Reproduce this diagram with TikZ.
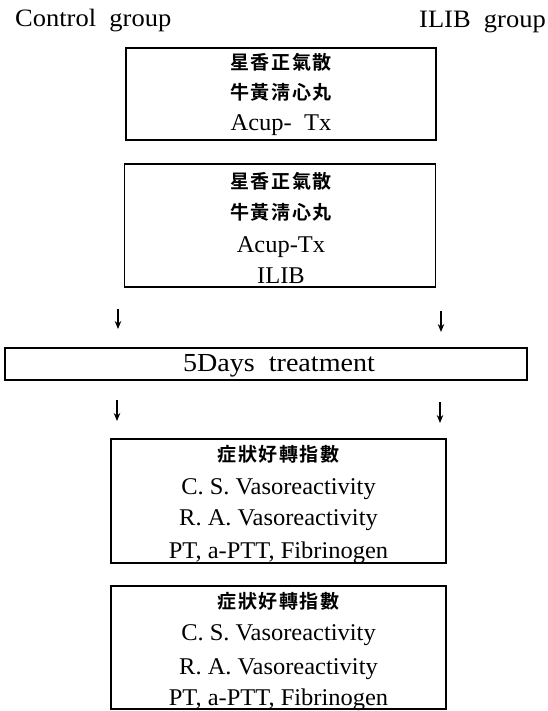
\documentclass[tikz,border=0pt]{standalone}
\usepackage{fontspec}
\setmainfont{Liberation Serif}[FakeStretch=1.02]
\newfontfamily\hdrfont{Liberation Serif}[FakeStretch=1.06]
\newfontfamily\trtfont{Liberation Serif}[FakeStretch=1.08]
\newfontfamily\cjk{Noto Sans CJK KR}[LetterSpace=8,UprightFont=* Bold]
\usetikzlibrary{arrows.meta}
\tikzset{
  box/.style={draw, line width=1.6pt, inner sep=0pt},
  lat/.style={font=\fontsize{24}{24}\selectfont, anchor=base, inner sep=0pt},
  han/.style={font=\cjk\fontsize{19}{19}\selectfont, inner sep=0pt},
  hdr/.style={font=\hdrfont\fontsize{25}{25}\selectfont, inner sep=0pt},
  trt/.style={font=\trtfont\fontsize{26}{26}\selectfont, anchor=base, inner sep=0pt},
  arr/.style={-{Stealth[length=8pt,width=6.5pt]}, line width=1.3pt},
}
\begin{document}
\begin{tikzpicture}[x=1pt,y=-1pt]
\useasboundingbox (0,0) rectangle (547,711);
% headers
\node[hdr, anchor=base west] (hc) at (15,27) {Control\ \ group};
\node[hdr, anchor=base east] (hi) at (546,28) {ILIB\ \ group};
% box 1
\node[box, minimum width=310pt, minimum height=92pt] (b1) at (281,94) {};
\node[han] (b1a) at (281,62) {星香正氣散};
\node[han] (b1b) at (281,92) {牛黃淸心丸};
\node[lat] (b1c) at (281,131) {Acup-\ \ Tx};
% box 2
\node[box, minimum width=311pt, minimum height=123pt] (b2) at (280,225.5) {};
\node[han] (b2a) at (281,181) {星香正氣散};
\node[han] (b2b) at (281,212) {牛黃淸心丸};
\node[lat] (b2c) at (281,252) {Acup-Tx};
\node[lat] (b2d) at (281,283) {ILIB};
% arrows 1
\coordinate (a1s) at (118,309); \coordinate (a1e) at (118,329);
\coordinate (a2s) at (441,311); \coordinate (a2e) at (441,332);
\draw[arr] (a1s) -- (a1e);
\draw[arr] (a2s) -- (a2e);
% treatment
\node[box, minimum width=522pt, minimum height=32pt] (tr) at (266,364) {};
\node[trt] (trt) at (279,371.5) {5Days\ \ treatment};
% arrows 2
\coordinate (a3s) at (117,400); \coordinate (a3e) at (117,421);
\coordinate (a4s) at (440,402); \coordinate (a4e) at (440,423);
\draw[arr] (a3s) -- (a3e);
\draw[arr] (a4s) -- (a4e);
% box 3
\node[box, minimum width=335pt, minimum height=124pt] (b3) at (278.5,501) {};
\node[han] (b3a) at (278.5,454) {症狀好轉指數};
\node[lat] (b3b) at (278.5,494) {C.\ S.\ Vasoreactivity};
\node[lat] (b3c) at (278.5,525.5) {R.\ A.\ Vasoreactivity};
\node[lat] (b3d) at (278.5,558) {PT, a-PTT, Fibrinogen};
% box 4
\node[box, minimum width=335pt, minimum height=123pt] (b4) at (278.5,647.5) {};
\node[han] (b4a) at (278.5,601) {症狀好轉指數};
\node[lat] (b4b) at (278.5,640) {C.\ S.\ Vasoreactivity};
\node[lat] (b4c) at (278.5,674) {R.\ A.\ Vasoreactivity};
\node[lat] (b4d) at (278.5,705) {PT, a-PTT, Fibrinogen};
\end{tikzpicture}
\end{document}
